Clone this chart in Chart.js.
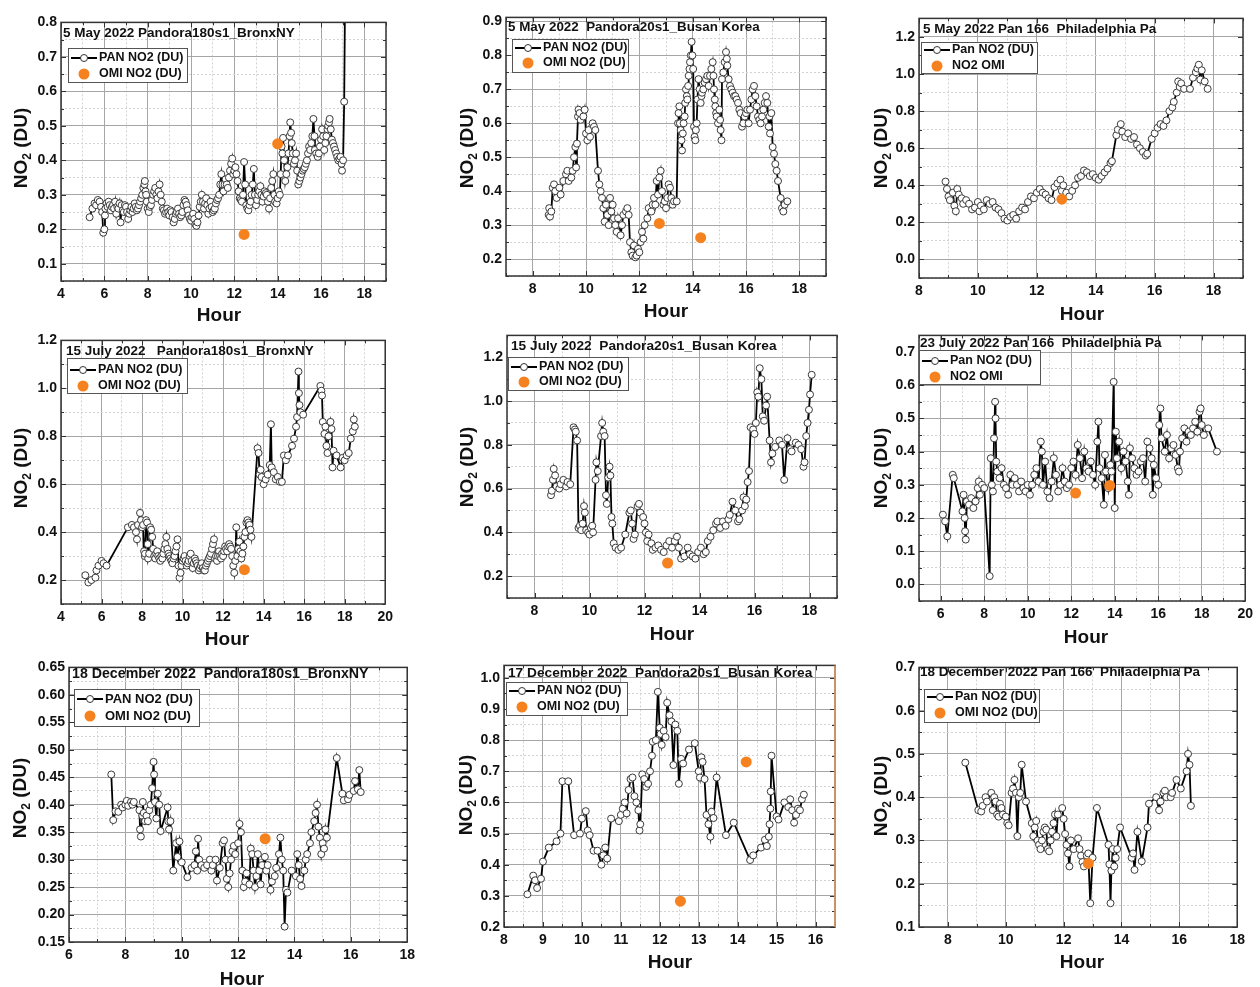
<!DOCTYPE html>
<html>
<head>
<meta charset="utf-8">
<script src="https://cdn.jsdelivr.net/npm/chart.js@4.4.1/dist/chart.umd.min.js"></script>
<style>
  html, body { margin: 0; padding: 0; background: #fff; width: 1260px; height: 987px; overflow: hidden; position: relative; }
  canvas { position: absolute; }
</style>
</head>
<body>
<script>
// ---- Pandora (PAN) and OMI total NO2 columns, DU, vs. hour of day ----

// 5 May 2022, Pandora180s1 Bronx NY
const bronxMayHour = [
  5.32,5.45,5.55,5.62,5.7,5.78,5.85,5.9,5.95,6.0,
  6.03,6.05,6.1,6.15,6.2,6.25,6.3,6.35,6.4,6.45,
  6.5,6.55,6.6,6.65,6.7,6.75,6.8,6.85,6.9,6.95,
  7.0,7.05,7.1,7.15,7.2,7.25,7.3,7.35,7.4,7.45,
  7.5,7.55,7.6,7.65,7.7,7.75,7.8,7.85,7.87,7.9,
  7.93,7.96,8.0,8.05,8.1,8.15,8.2,8.25,8.3,8.35,
  8.4,8.45,8.5,8.55,8.6,8.65,8.7,8.75,8.8,8.85,
  8.9,8.95,9.0,9.05,9.1,9.15,9.2,9.25,9.3,9.35,
  9.4,9.45,9.5,9.55,9.6,9.65,9.7,9.75,9.8,9.85,
  9.9,9.95,10.0,10.05,10.1,10.15,10.2,10.25,10.3,10.35,
  10.4,10.45,10.5,10.55,10.6,10.65,10.7,10.75,10.8,10.85,
  10.9,10.95,11.0,11.05,11.1,11.15,11.2,11.25,11.3,11.35,
  11.4,11.45,11.5,11.55,11.6,11.65,11.7,11.75,11.8,11.85,
  11.9,11.95,12.0,12.05,12.1,12.15,12.2,12.25,12.3,12.35,
  12.4,12.45,12.5,12.55,12.6,12.65,12.7,12.75,12.8,12.85,
  12.9,12.95,13.0,13.05,13.1,13.15,13.2,13.25,13.3,13.35,
  13.4,13.45,13.5,13.55,13.6,13.65,13.7,13.75,13.8,13.85,
  13.88,13.95,14.0,14.05,14.1,14.14,14.18,14.22,14.25,14.3,
  14.35,14.4,14.45,14.5,14.55,14.58,14.62,14.65,14.7,14.75,
  14.8,14.85,14.9,14.95,15.0,15.05,15.1,15.15,15.2,15.25,
  15.3,15.35,15.4,15.45,15.5,15.55,15.6,15.65,15.7,15.72,
  15.78,15.85,15.9,15.95,16.0,16.05,16.1,16.15,16.2,16.25,
  16.3,16.33,16.37,16.4,16.45,16.5,16.55,16.6,16.65,16.7,
  16.75,16.8,16.85,16.9,16.95,16.97,17.02,17.07,17.12
];
const bronxMayPan = [
  .235,.26,.275,.27,.285,.28,.265,.25,.19,.2,
  .24,.26,.275,.265,.28,.27,.255,.265,.27,.26,
  .28,.245,.265,.26,.275,.22,.27,.255,.25,.27,
  .265,.25,.23,.245,.255,.265,.25,.26,.275,.265,
  .255,.26,.27,.28,.29,.3,.32,.33,.34,.31,
  .3,.28,.26,.25,.265,.27,.285,.3,.31,.32,
  .3,.29,.31,.33,.3,.28,.26,.255,.245,.25,
  .26,.25,.24,.255,.25,.235,.22,.23,.245,.25,
  .26,.245,.235,.24,.25,.27,.285,.28,.27,.255,
  .24,.23,.225,.235,.245,.23,.215,.21,.22,.24,
  .265,.28,.3,.28,.26,.275,.29,.27,.245,.26,
  .28,.265,.25,.255,.26,.275,.285,.29,.3,.33,
  .36,.33,.31,.33,.345,.33,.32,.35,.37,.39,
  .405,.36,.37,.38,.36,.34,.31,.29,.285,.28,
  .3,.395,.33,.27,.26,.255,.27,.28,.3,.33,
  .375,.3,.27,.285,.3,.31,.325,.3,.28,.295,
  .31,.305,.3,.28,.26,.29,.32,.34,.36,.3,
  .28,.275,.29,.31,.3,.36,.44,.42,.465,.4,
  .34,.36,.38,.42,.47,.51,.48,.45,.42,.39,
  .4,.42,.37,.33,.34,.35,.36,.37,.375,.38,
  .39,.4,.42,.44,.43,.45,.47,.52,.47,.43,
  .42,.41,.42,.44,.46,.49,.47,.43,.45,.47,
  .49,.5,.51,.52,.49,.46,.45,.44,.43,.42,
  .41,.4,.405,.41,.39,.37,.4,.57,.95
];
const bronxMayOmiHour = [12.45, 14.0];
const bronxMayOmi = [0.185, 0.448];

// 5 May 2022, Pandora20s1 Busan Korea
const busanMayHour = [
  8.6,8.62,8.65,8.7,8.75,8.8,8.85,8.9,9.0,9.05,
  9.15,9.25,9.3,9.35,9.45,9.5,9.55,9.6,9.63,9.66,
  9.7,9.72,9.76,9.8,9.9,9.95,10.0,10.05,10.1,10.15,
  10.25,10.3,10.35,10.45,10.5,10.55,10.6,10.65,10.7,10.75,
  10.8,10.85,10.9,10.95,11.0,11.05,11.1,11.15,11.2,11.3,
  11.35,11.4,11.5,11.55,11.6,11.65,11.7,11.75,11.8,11.85,
  11.9,11.95,12.0,12.05,12.1,12.15,12.2,12.3,12.35,12.45,
  12.5,12.55,12.6,12.65,12.7,12.75,12.8,12.85,12.9,12.95,
  13.0,13.05,13.1,13.15,13.2,13.25,13.3,
  13.4,13.45,13.47,13.5,13.52,13.55,13.58,13.6,13.63,13.66,
  13.7,13.72,13.75,13.78,13.8,13.83,13.85,13.88,13.9,13.93,
  13.96,13.99,14.02,14.05,14.07,14.1,14.12,14.15,14.18,14.22,
  14.26,14.3,14.33,14.35,14.4,14.45,14.5,14.55,14.6,14.65,
  14.7,14.75,14.78,14.8,14.83,14.85,14.88,14.9,14.95,15.0,
  15.03,15.05,15.08,15.1,15.15,15.2,15.25,15.28,15.3,15.35,
  15.4,15.45,15.5,15.55,15.6,15.65,15.7,15.75,15.8,15.85,
  15.9,15.95,16.0,16.05,16.1,16.15,16.2,16.25,16.3,16.35,
  16.4,16.45,16.5,16.55,16.6,16.65,16.7,16.75,16.8,16.85,
  16.88,16.9,16.95,17.0,17.05,17.1,17.15,17.2,17.3,17.35,
  17.4,17.45,17.55
];
const busanMayPan = [
  .33,.35,.325,.34,.41,.42,.4,.38,.41,.39,
  .43,.45,.46,.43,.44,.46,.5,.53,.47,.54,
  .62,.64,.63,.61,.62,.64,.57,.55,.58,.56,
  .6,.59,.58,.46,.42,.4,.38,.35,.31,.36,
  .33,.3,.38,.34,.36,.32,.3,.28,.32,.27,
  .3,.33,.34,.35,.33,.25,.22,.21,.24,.205,
  .21,.23,.22,.25,.28,.26,.3,.32,.35,.34,
  .36,.38,.36,.43,.39,.44,.46,.4,.36,.37,
  .35,.38,.42,.41,.38,.36,.37,
  .37,.6,.63,.65,.6,.58,.55,.52,.57,.6,
  .62,.66,.7,.68,.67,.71,.74,.76,.78,.8,
  .84,.8,.76,.59,.56,.55,.58,.6,.67,.73,
  .7,.66,.68,.69,.7,.72,.73,.74,.71,.74,
  .76,.78,.74,.7,.67,.65,.63,.62,.6,.64,
  .61,.58,.55,.73,.75,.78,.81,.79,.77,.73,
  .71,.7,.69,.68,.68,.67,.66,.64,.63,.59,
  .6,.62,.63,.64,.6,.64,.67,.7,.71,.68,
  .65,.62,.61,.6,.62,.64,.66,.68,.66,.59,
  .62,.57,.63,.53,.51,.48,.46,.43,.38,.35,
  .34,.36,.37
];
const busanMayOmiHour = [12.75, 14.3];
const busanMayOmi = [0.305, 0.263];

// 5 May 2022, Pan 166 Philadelphia PA
const phillyMayHour = [
  8.9,8.95,9.0,9.05,9.15,9.2,9.25,9.3,9.35,9.45,
  9.5,9.6,9.7,9.8,9.9,10.0,10.05,10.1,10.2,10.3,
  10.4,10.5,10.6,10.7,10.8,10.9,11.0,11.1,11.2,11.3,
  11.4,11.5,11.6,11.7,11.8,11.9,12.0,12.1,12.2,12.3,
  12.4,12.5,12.6,12.7,12.8,12.85,12.9,13.0,13.1,13.2,
  13.3,13.4,13.5,13.6,13.7,13.8,13.9,14.0,14.1,14.2,
  14.3,14.4,14.5,14.55,14.7,14.75,14.85,14.9,15.0,15.1,
  15.2,15.3,15.4,15.5,15.6,15.7,15.75,15.9,16.0,16.1,
  16.2,16.3,16.4,16.5,16.6,16.65,16.75,16.8,16.85,16.9,
  17.0,17.2,17.3,17.4,17.45,17.5,17.55,17.6,17.7,17.8
];
const phillyMayPan = [
  .42,.38,.34,.32,.36,.29,.26,.38,.35,.33,
  .3,.32,.3,.27,.28,.31,.26,.29,.27,.32,
  .3,.31,.28,.27,.25,.22,.21,.23,.24,.22,
  .26,.28,.27,.31,.34,.33,.36,.38,.36,.35,
  .33,.32,.39,.41,.43,.37,.4,.36,.34,.37,
  .4,.44,.45,.48,.47,.45,.46,.44,.43,.45,
  .47,.49,.52,.53,.67,.7,.73,.69,.66,.68,
  .65,.66,.62,.6,.58,.56,.57,.65,.68,.71,
  .73,.72,.75,.8,.82,.85,.9,.96,.93,.95,
  .92,.92,.98,1.01,1.03,1.05,.97,1.02,.96,.92
];
const phillyMayOmiHour = [12.85];
const phillyMayOmi = [0.325];

// 15 July 2022, Pandora180s1 Bronx NY
const bronxJulHour = [
  5.2,5.35,5.5,5.7,5.75,5.85,6.0,6.1,6.25,7.3,
  7.5,7.6,7.7,7.75,7.8,7.9,7.95,8.0,8.05,
  8.1,8.13,8.15,8.2,8.25,8.28,8.3,8.35,8.4,8.45,
  8.5,8.55,8.6,8.65,8.7,8.75,8.8,8.85,8.9,8.95,
  9.0,9.05,9.1,9.15,9.2,9.25,9.3,9.35,9.4,9.45,
  9.5,9.55,9.6,9.65,9.7,9.75,9.8,9.85,9.9,9.95,
  10.0,10.05,10.1,10.15,10.2,10.25,10.3,10.35,10.4,10.45,
  10.5,10.55,10.6,10.65,10.7,10.75,10.8,10.85,10.9,10.95,
  11.0,11.05,11.1,11.15,11.2,11.25,11.3,11.35,11.4,11.45,
  11.5,11.55,11.6,11.65,11.7,11.75,11.8,11.85,11.9,11.95,
  12.0,12.05,12.1,12.15,12.2,12.25,12.3,12.35,12.4,12.45,
  12.5,12.55,12.6,12.65,12.7,12.75,12.8,12.85,12.9,12.95,
  13.0,13.05,13.1,13.15,13.2,13.25,13.3,13.35,13.4,
  13.7,13.75,13.8,13.85,13.9,14.0,14.1,14.2,14.3,14.36,
  14.4,14.5,14.6,14.7,14.8,14.9,15.0,15.1,15.2,15.4,
  15.5,15.6,15.65,15.72,15.74,15.77,15.82,15.95,16.8,16.85,
  16.88,16.92,17.0,17.05,17.1,17.15,17.2,17.3,17.35,17.4,
  17.45,17.6,17.8,17.9,18.0,18.1,18.2,18.3,18.4,18.45,
  18.5
];
const bronxJulPan = [
  .22,.19,.2,.21,.24,.26,.28,.27,.26,.42,
  .43,.42,.4,.37,.43,.48,.45,.42,.43,
  .32,.3,.31,.45,.44,.35,.29,.31,.42,.41,
  .38,.33,.3,.29,.31,.32,.3,.29,.28,.3,
  .29,.31,.33,.35,.38,.33,.31,.3,.29,.28,
  .27,.29,.3,.32,.34,.37,.26,.21,.23,.26,
  .28,.29,.3,.28,.26,.27,.28,.3,.31,.28,
  .25,.27,.29,.28,.27,.26,.24,.25,.26,.27,
  .25,.24,.24,.26,.27,.28,.29,.3,.31,.33,
  .35,.37,.29,.3,.28,.3,.32,.3,.29,.31,
  .3,.32,.34,.33,.32,.34,.35,.34,.33,.3,
  .26,.23,.28,.42,.3,.33,.36,.32,.29,.31,
  .34,.38,.4,.44,.45,.44,.43,.41,.38,
  .75,.73,.64,.66,.63,.6,.62,.64,.68,.85,
  .67,.65,.62,.63,.61,.61,.72,.7,.72,.76,
  .79,.84,.88,1.07,.98,.93,.9,.89,1.01,.99,
  .97,.86,.81,.84,.76,.73,.8,.86,.83,.67,
  .74,.72,.67,.71,.7,.72,.73,.79,.82,.87,
  .84
];
const bronxJulOmiHour = [13.05];
const bronxJulOmi = [0.243];

// 15 July 2022, Pandora20s1 Busan Korea
const busanJulHour = [
  8.6,8.63,8.67,8.7,8.75,8.8,8.9,8.95,9.05,9.15,
  9.2,9.3,9.42,9.47,9.5,9.55,9.6,9.65,9.7,9.75,
  9.8,9.83,9.88,9.95,10.0,10.05,10.1,10.13,10.22,10.25,
  10.3,10.42,10.46,10.5,10.55,10.6,10.63,10.68,10.73,10.76,
  10.8,10.83,10.88,10.95,11.05,11.15,11.3,11.45,11.5,11.55,
  11.6,11.65,11.75,11.8,11.85,11.95,12.0,12.05,12.1,12.15,
  12.25,12.3,12.4,12.5,12.6,12.7,12.8,12.9,13.0,13.1,
  13.18,13.25,13.33,13.45,13.57,13.65,13.75,13.85,13.95,14.05,
  14.15,14.23,14.3,14.4,14.5,14.6,14.65,14.75,14.85,14.95,
  15.05,15.1,15.2,15.3,15.4,15.45,15.55,15.6,15.65,15.7,
  15.75,15.8,15.86,15.95,16.0,16.05,16.1,16.14,16.19,16.25,
  16.3,16.35,16.42,16.46,16.55,16.6,16.65,16.75,16.9,17.0,
  17.08,17.2,17.3,17.35,17.5,17.6,17.7,17.78,17.82,17.88,
  17.93,17.98,18.02,18.08
];
const busanJulPan = [
  .57,.59,.64,.69,.66,.61,.6,.62,.64,.61,
  .63,.62,.88,.87,.86,.82,.42,.43,.41,.44,
  .52,.49,.41,.4,.39,.42,.43,.4,.64,.72,
  .68,.84,.9,.86,.84,.57,.53,.65,.7,.66,
  .47,.44,.35,.33,.32,.33,.39,.49,.5,.44,
  .37,.39,.52,.53,.49,.47,.44,.4,.36,.39,
  .35,.32,.33,.34,.32,.31,.34,.36,.33,.36,
  .38,.33,.28,.29,.33,.3,.29,.28,.31,.33,
  .3,.31,.36,.38,.41,.44,.45,.42,.45,.43,
  .46,.48,.54,.5,.45,.46,.5,.56,.52,.55,
  .63,.68,.88,.87,.85,.9,1.04,1.02,1.15,1.1,
  .93,.91,.98,1.02,.82,.72,.76,.79,.82,.8,
  .64,.83,.78,.77,.81,.8,.78,.7,.72,.84,
  .9,.96,1.03,1.12
];
const busanJulOmiHour = [12.84];
const busanJulOmi = [0.26];

// 23 July 2022, Pan 166 Philadelphia PA
const phillyJulHour = [
  6.1,6.2,6.3,6.55,6.6,7.0,7.05,7.1,7.12,7.15,
  7.2,7.3,7.4,7.5,7.6,7.7,7.75,7.8,7.9,8.0,
  8.25,8.3,8.35,8.4,8.45,8.5,8.52,8.55,8.6,8.7,
  8.8,8.9,9.0,9.1,9.2,9.3,9.4,9.5,9.6,9.7,
  9.8,9.9,10.0,10.1,10.2,10.3,10.4,10.5,10.6,10.65,
  10.7,10.8,10.9,11.0,11.1,11.2,11.3,11.4,11.5,11.6,
  11.7,11.8,11.9,12.0,12.1,12.2,12.3,12.4,12.5,12.6,
  12.7,12.8,12.9,13.0,13.1,13.2,13.25,13.3,13.4,13.5,
  13.55,13.6,13.7,13.8,13.85,13.95,14.0,14.05,14.1,14.2,
  14.3,14.4,14.5,14.6,14.65,14.7,14.8,14.9,15.0,15.1,
  15.2,15.3,15.4,15.5,15.6,15.7,15.75,15.8,15.9,16.0,
  16.05,16.1,16.15,16.3,16.4,16.5,16.6,16.7,16.8,16.9,
  16.95,17.0,17.1,17.2,17.3,17.4,17.5,17.6,17.7,17.8,
  17.9,17.95,18.0,18.1,18.3,18.7
];
const phillyJulPan = [
  .21,.19,.145,.33,.32,.22,.27,.2,.16,.135,
  .25,.24,.26,.23,.25,.29,.31,.27,.3,.29,
  .025,.38,.3,.28,.44,.55,.5,.37,.34,.32,
  .35,.3,.29,.27,.33,.3,.32,.3,.28,.31,
  .29,.28,.3,.27,.3,.33,.35,.31,.43,.4,
  .3,.37,.28,.26,.31,.38,.33,.28,.3,.35,
  .31,.29,.3,.35,.37,.33,.42,.38,.32,.4,
  .35,.34,.37,.33,.3,.43,.49,.35,.32,.24,
  .39,.34,.29,.36,.34,.61,.23,.46,.38,.43,
  .35,.4,.37,.31,.27,.41,.38,.35,.33,.34,
  .37,.38,.31,.43,.41,.38,.27,.36,.32,.3,
  .48,.53,.44,.4,.45,.38,.41,.42,.39,.35,
  .34,.4,.44,.47,.43,.46,.45,.47,.49,.46,
  .52,.53,.48,.45,.47,.4
];
const phillyJulOmiHour = [12.2, 13.77];
const phillyJulOmi = [0.275, 0.298];

// 18 December 2022, Pandora180s1 Bronx NY
const bronxDecHour = [
  7.5,7.57,7.65,7.75,7.85,7.9,8.0,8.05,8.1,8.2,
  8.25,8.3,8.5,8.52,8.55,8.6,8.62,8.65,8.7,8.75,
  8.8,8.85,8.9,8.95,9.0,9.02,9.05,9.1,9.15,9.2,
  9.25,9.5,9.52,9.55,9.6,9.7,9.8,9.85,9.92,10.0,
  10.2,10.35,10.45,10.5,10.55,10.58,10.62,10.7,10.8,10.9,
  11.0,11.05,11.1,11.2,11.25,11.35,11.45,11.5,11.55,11.6,
  11.65,11.7,11.75,11.8,11.85,11.9,12.0,12.05,12.1,12.15,
  12.2,12.25,12.3,12.4,12.45,12.5,12.55,12.6,12.65,12.7,
  12.75,12.8,12.85,12.95,13.0,13.05,13.15,13.2,13.3,13.35,
  13.45,13.5,13.55,13.6,13.65,13.7,13.75,13.9,14.05,14.1,
  14.15,14.2,14.25,14.35,14.4,14.45,14.55,14.6,14.7,14.75,
  14.8,14.85,14.9,14.95,15.0,15.05,15.1,15.15,15.5,15.7,
  15.75,15.9,15.95,16.1,16.15,16.25,16.3,16.35
];
const bronxDecPan = [
  .455,.372,.388,.387,.4,.395,.4,.407,.398,.405,
  .4,.405,.39,.355,.342,.38,.405,.385,.37,.38,
  .37,.39,.4,.43,.478,.455,.405,.375,.42,.4,
  .352,.395,.37,.355,.37,.28,.33,.305,.333,.295,
  .268,.285,.29,.315,.28,.338,.3,.29,.285,.29,
  .3,.28,.29,.3,.262,.285,.33,.335,.3,.265,
  .25,.275,.3,.315,.325,.31,.33,.365,.35,.28,
  .25,.26,.275,.255,.32,.31,.28,.25,.27,.31,
  .28,.255,.29,.305,.28,.29,.245,.26,.27,.285,
  .31,.34,.3,.28,.178,.245,.24,.28,.27,.31,
  .29,.265,.252,.28,.3,.31,.33,.35,.37,.385,
  .4,.36,.34,.31,.33,.32,.355,.34,.485,.42,
  .408,.41,.418,.425,.443,.428,.463,.423
];
const bronxDecOmiHour = [12.96];
const bronxDecOmi = [0.338];

// 17 December 2022, Pandora20s1 Busan Korea
const busanDecHour = [
  8.6,8.75,8.8,8.85,8.95,9.0,9.15,9.35,9.45,9.5,
  9.65,9.8,9.95,10.0,10.1,10.15,10.2,10.3,10.4,10.5,
  10.55,10.6,10.65,10.75,10.95,11.0,11.05,11.1,11.15,11.2,
  11.25,11.3,11.35,11.4,11.45,11.48,11.5,11.55,11.6,11.65,
  11.7,11.75,11.8,11.82,11.9,11.95,12.0,12.02,12.05,12.1,
  12.15,12.19,12.25,12.3,12.35,12.4,12.45,12.49,12.55,12.6,
  12.75,12.9,13.0,13.03,13.07,13.1,13.15,13.2,13.25,13.3,
  13.33,13.38,13.46,13.7,13.9,14.32,14.4,14.6,14.7,14.75,
  14.8,14.82,14.84,14.85,14.87,15.0,15.05,15.2,15.3,15.35,
  15.4,15.45,15.5,15.55,15.6,15.65,15.7
];
const busanDecPan = [
  .305,.365,.35,.325,.355,.41,.455,.475,.5,.668,
  .668,.495,.5,.548,.572,.51,.495,.445,.445,.4,
  .43,.455,.42,.548,.54,.56,.58,.6,.565,.64,
  .675,.68,.62,.6,.575,.51,.53,.69,.675,.65,
  .66,.7,.75,.795,.8,.955,.84,.82,.785,.83,
  .81,.92,.88,.86,.72,.85,.83,.66,.74,.725,
  .77,.79,.7,.68,.745,.73,.675,.56,.53,.49,
  .57,.55,.68,.495,.535,.415,.43,.455,.48,.46,
  .49,.53,.58,.635,.75,.555,.545,.6,.585,.61,
  .575,.535,.56,.58,.575,.61,.625
];
const busanDecOmiHour = [12.53, 14.22];
const busanDecOmi = [0.283, 0.73];

// 18 December 2022, Pan 166 Philadelphia PA
const phillyDecHour = [
  8.6,9.05,9.15,9.2,9.3,9.35,9.5,9.55,9.6,9.65,
  9.7,9.75,9.8,9.85,9.9,10.0,10.05,10.1,10.2,10.25,
  10.3,10.35,10.4,10.45,10.5,10.55,10.7,10.9,10.95,11.0,
  11.05,11.1,11.15,11.2,11.25,11.3,11.35,11.4,11.45,11.5,
  11.55,11.6,11.65,11.7,11.75,11.8,11.95,12.0,12.05,12.1,
  12.15,12.2,12.25,12.35,12.5,12.55,12.6,12.65,12.7,12.8,
  12.85,12.92,13.0,13.15,13.55,13.58,13.62,13.65,13.7,13.75,
  13.8,13.85,13.95,14.35,14.4,14.45,14.55,14.7,14.9,14.95,
  15.2,15.3,15.35,15.45,15.5,15.55,15.7,15.75,15.9,16.05,
  16.25,16.3,16.35,16.4
];
const phillyDecPan = [
  .48,.37,.367,.38,.4,.39,.41,.37,.4,.39,
  .36,.355,.385,.375,.36,.355,.34,.335,.41,.42,
  .44,.41,.31,.4,.41,.475,.39,.34,.31,.33,
  .345,.3,.29,.28,.3,.32,.33,.325,.28,.275,
  .3,.32,.34,.36,.31,.36,.375,.35,.315,.29,
  .27,.24,.3,.28,.305,.28,.265,.25,.24,.265,
  .27,.155,.26,.375,.29,.245,.155,.23,.28,.24,
  .26,.28,.33,.26,.27,.232,.32,.252,.33,.385,
  .4,.37,.39,.41,.415,.4,.4,.41,.44,.42,
  .46,.5,.475,.38
];
const phillyDecOmiHour = [12.85];
const phillyDecOmi = [0.247];

// ---- page layout for the 3x3 grid (plot boxes in page pixels) ----
const FONT = '"Liberation Sans", Arial, Helvetica, sans-serif';
const ORANGE = '#f5821f';
const PAN_LABEL = 'PAN NO2 (DU)', OMI_LABEL = 'OMI NO2 (DU)';
const PAN_LABEL_PA = 'Pan NO2 (DU)', OMI_LABEL_PA = 'NO2 OMI';

const panels = [
  { hour: bronxMayHour, pan: bronxMayPan, omiHour: bronxMayOmiHour, omi: bronxMayOmi,
    box: [61, 20, 386, 281], x: [4, 19, 1, 2], y: [0.05, 0.8, 0.05, 0.1], dec: 1,
    title: '5 May 2022 Pandora180s1_BronxNY', titleAt: [63, 33], titleSize: 13.5, legendSize: 12.5,
    legend: [68, 48, 119, 34], rows: [58, 74], labels: [PAN_LABEL, OMI_LABEL],
    hourAt: [219, 316], no2At: [22, 148] },
  { hour: busanMayHour, pan: busanMayPan, omiHour: busanMayOmiHour, omi: busanMayOmi,
    box: [506, 15, 826, 276], x: [7, 19, 1, 2], y: [0.15, 0.912, 0.05, 0.1], dec: 1,
    title: '5 May 2022  Pandora20s1_Busan Korea', titleAt: [508, 27.5], titleSize: 13.4, legendSize: 12.5,
    legend: [512, 39, 116, 33], rows: [48, 63], labels: [PAN_LABEL, OMI_LABEL],
    hourAt: [666, 312], no2At: [468, 148] },
  { hour: phillyMayHour, pan: phillyMayPan, omiHour: phillyMayOmiHour, omi: phillyMayOmi,
    box: [919, 16, 1243, 278], x: [8, 19, 1, 2], y: [-0.1, 1.3, 0.1, 0.2], dec: 1,
    title: '5 May 2022 Pan 166  Philadelphia Pa', titleAt: [923, 29], titleSize: 13.5, legendSize: 12.5,
    legend: [921, 42, 116, 31], rows: [50, 66], labels: [PAN_LABEL_PA, OMI_LABEL_PA],
    hourAt: [1082, 315], no2At: [882, 148] },
  { hour: bronxJulHour, pan: bronxJulPan, omiHour: bronxJulOmiHour, omi: bronxJulOmi,
    box: [61, 338, 392, 604], x: [4, 20, 1, 2], y: [0.1, 1.2, 0.1, 0.2], dec: 1,
    title: '15 July 2022   Pandora180s1_BronxNY', titleAt: [66, 351], titleSize: 13.5, legendSize: 12.5,
    legend: [67, 358, 120, 35], rows: [370, 386], labels: [PAN_LABEL, OMI_LABEL],
    hourAt: [227, 640], no2At: [22, 468] },
  { hour: busanJulHour, pan: busanJulPan, omiHour: busanJulOmiHour, omi: busanJulOmi,
    box: [507, 333, 837, 598], x: [7, 19, 1, 2], y: [0.1, 1.3, 0.1, 0.2], dec: 1,
    title: '15 July 2022  Pandora20s1_Busan Korea', titleAt: [511, 346], titleSize: 13.7, legendSize: 12.5,
    legend: [508, 357, 120, 33], rows: [367, 382], labels: [PAN_LABEL, OMI_LABEL],
    hourAt: [672, 635], no2At: [468, 467] },
  { hour: phillyJulHour, pan: phillyJulPan, omiHour: phillyJulOmiHour, omi: phillyJulOmi,
    box: [919, 333, 1252, 601], x: [5, 20, 1, 2], y: [-0.05, 0.75, 0.05, 0.1], dec: 1,
    title: '23 July 2022 Pan 166  Philadelphia Pa', titleAt: [920, 343], titleSize: 13.5, legendSize: 12.5,
    legend: [919, 350, 121, 34], rows: [361, 377], labels: [PAN_LABEL_PA, OMI_LABEL_PA],
    hourAt: [1086, 638], no2At: [882, 468] },
  { hour: bronxDecHour, pan: bronxDecPan, omiHour: bronxDecOmiHour, omi: bronxDecOmi,
    box: [69, 665, 414, 942], x: [6, 18, 1, 2], y: [0.15, 0.65, 0.025, 0.05], dec: 2,
    title: '18 December 2022  Pandora180s1_BronxNY', titleAt: [72, 674.5], titleSize: 14.2, legendSize: 13,
    legend: [74, 689, 125, 37], rows: [699, 716], labels: [PAN_LABEL, OMI_LABEL],
    hourAt: [242, 980], no2At: [21, 798] },
  { hour: busanDecHour, pan: busanDecPan, omiHour: busanDecOmiHour, omi: busanDecOmi,
    box: [504, 663, 835, 927], x: [8, 16.5, 0.5, 1], y: [0.2, 1.04, 0.05, 0.1], dec: 1,
    title: '17 December 2022  Pandora20s1_Busan Korea', titleAt: [508, 673], titleSize: 13.7, legendSize: 12.5,
    legend: [506, 682, 121, 33], rows: [691, 707], labels: [PAN_LABEL, OMI_LABEL],
    hourAt: [670, 963], no2At: [467, 795], rightEdge: '#e9a66a' },
  { hour: phillyDecHour, pan: phillyDecPan, omiHour: phillyDecOmiHour, omi: phillyDecOmi,
    box: [919, 665, 1244, 927], x: [7, 18, 1, 2], y: [0.1, 0.7, 0.05, 0.1], dec: 1,
    title: '18 December 2022 Pan 166  Philadelphia Pa', titleAt: [920, 672], titleSize: 13.5, legendSize: 12.5,
    legend: [924, 689, 115, 33], rows: [697, 713], labels: [PAN_LABEL_PA, OMI_LABEL],
    hourAt: [1082, 963], no2At: [882, 796] }
];

Chart.defaults.font.family = FONT;
Chart.defaults.font.weight = 'bold';
Chart.defaults.font.size = 14;
Chart.defaults.color = '#111';

function isMajor(v, step) {
  const q = v / step;
  return Math.abs(q - Math.round(q)) < 1e-6;
}
// evenly spaced ticks (major + minor) inside [min, max]
function stepTicks(min, max, step) {
  const out = [];
  const first = Math.ceil(min / step - 1e-6);
  const last = Math.floor(max / step + 1e-6);
  for (let k = first; k <= last; k++) out.push({ value: Math.round(k * step * 1e6) / 1e6 });
  return out;
}
function gridColor(ctx, step) {
  if (!ctx.tick) return '#a6a6a6';
  return isMajor(ctx.tick.value, step) ? '#a6a6a6' : '#d2d2d2';
}
function gridDash(ctx, step) {
  if (!ctx.tick) return [];
  return isMajor(ctx.tick.value, step) ? [] : [2, 2];
}

// frame with inward ticks, in-plot title, legend box and axis titles
function decor(p, ox, oy) {
  return {
    id: 'decor',
    afterDraw(chart) {
      const c = chart.ctx, a = chart.chartArea;
      const xs = chart.scales.x, ys = chart.scales.y;
      c.save();

      c.strokeStyle = '#333';
      c.lineWidth = 1;
      c.beginPath();
      xs.ticks.forEach(tk => {
        const px = Math.round(xs.getPixelForValue(tk.value)) + 0.5;
        const len = isMajor(tk.value, p.x[3]) ? 5 : 3;
        c.moveTo(px, a.bottom); c.lineTo(px, a.bottom - len);
        c.moveTo(px, a.top); c.lineTo(px, a.top + len);
      });
      ys.ticks.forEach(tk => {
        const py = Math.round(ys.getPixelForValue(tk.value)) + 0.5;
        const len = isMajor(tk.value, p.y[3]) ? 5 : 3;
        c.moveTo(a.left, py); c.lineTo(a.left + len, py);
        c.moveTo(a.right, py); c.lineTo(a.right - len, py);
      });
      c.stroke();

      c.strokeStyle = '#333';
      c.lineWidth = 1.5;
      c.strokeRect(a.left, a.top, a.right - a.left, a.bottom - a.top);
      if (p.rightEdge) {
        c.strokeStyle = p.rightEdge;
        c.beginPath(); c.moveTo(a.right, a.top); c.lineTo(a.right, a.bottom); c.stroke();
      }

      c.fillStyle = '#111';
      c.textAlign = 'left';
      c.textBaseline = 'middle';
      c.font = 'bold ' + p.titleSize + 'px ' + FONT;
      c.fillText(p.title, p.titleAt[0] - ox, p.titleAt[1] - oy);

      const [lx, ly, lw, lh] = p.legend;
      const bx = lx - ox, by = ly - oy;
      c.fillStyle = '#fff';
      c.fillRect(bx, by, lw, lh);
      c.strokeStyle = '#555';
      c.lineWidth = 1;
      c.strokeRect(bx + 0.5, by + 0.5, lw, lh);
      const r1 = p.rows[0] - oy, r2 = p.rows[1] - oy;
      c.strokeStyle = '#000';
      c.lineWidth = 2;
      c.beginPath(); c.moveTo(bx + 3, r1); c.lineTo(bx + 29, r1); c.stroke();
      c.beginPath(); c.arc(bx + 16, r1, 3.5, 0, Math.PI * 2);
      c.fillStyle = '#fff'; c.fill();
      c.lineWidth = 1; c.strokeStyle = '#333'; c.stroke();
      c.beginPath(); c.arc(bx + 16, r2, 5.5, 0, Math.PI * 2);
      c.fillStyle = ORANGE; c.fill();
      c.fillStyle = '#111';
      c.font = 'bold ' + p.legendSize + 'px ' + FONT;
      c.fillText(p.labels[0], bx + 31, r1);
      c.fillText(p.labels[1], bx + 31, r2);

      c.font = 'bold 19px ' + FONT;
      c.textAlign = 'center';
      c.fillText('Hour', p.hourAt[0] - ox, p.hourAt[1] - oy);

      c.translate(p.no2At[0] - ox, p.no2At[1] - oy);
      c.rotate(-Math.PI / 2);
      const big = 'bold 19px ' + FONT, small = 'bold 12px ' + FONT;
      c.font = big;
      const w1 = c.measureText('NO').width, w3 = c.measureText(' (DU)').width;
      c.font = small;
      const w2 = c.measureText('2').width;
      const x0 = -(w1 + w2 + w3) / 2;
      c.textAlign = 'left';
      c.font = big; c.fillText('NO', x0, 0);
      c.font = small; c.fillText('2', x0 + w1, 6);
      c.font = big; c.fillText(' (DU)', x0 + w1 + w2, 0);
      c.restore();
    }
  };
}

const PAD_L = 62, PAD_T = 10, PAD_R = 6, PAD_B = 64;

panels.forEach(p => {
  const [l, t, r, b] = p.box;
  const W = r - l + PAD_L + PAD_R, H = b - t + PAD_T + PAD_B;
  const ox = l - PAD_L, oy = t - PAD_T;
  const cv = document.createElement('canvas');
  cv.width = W; cv.height = H;
  cv.style.left = ox + 'px'; cv.style.top = oy + 'px';
  cv.style.width = W + 'px'; cv.style.height = H + 'px';
  document.body.appendChild(cv);

  new Chart(cv, {
    type: 'line',
    data: {
      datasets: [
        {
          label: p.labels[1],
          data: p.omiHour.map((h, i) => ({ x: h, y: p.omi[i] })),
          showLine: false,
          pointRadius: 5.5,
          pointBackgroundColor: ORANGE,
          pointBorderColor: ORANGE,
          pointBorderWidth: 0,
          order: 0
        },
        {
          label: p.labels[0],
          data: p.hour.map((h, i) => ({ x: h, y: p.pan[i] })),
          borderColor: '#000',
          borderWidth: 1.8,
          tension: 0,
          pointRadius: 3.5,
          pointBackgroundColor: '#fff',
          pointBorderColor: '#3a3a3a',
          pointBorderWidth: 1,
          order: 1
        }
      ]
    },
    options: {
      responsive: false,
      animation: false,
      devicePixelRatio: 1,
      events: [],
      layout: { autoPadding: false, padding: { left: 0, top: PAD_T, right: PAD_R, bottom: 0 } },
      plugins: { legend: { display: false }, tooltip: { enabled: false } },
      scales: {
        x: {
          type: 'linear', min: p.x[0], max: p.x[1],
          afterFit(s) { s.height = PAD_B; },
          afterBuildTicks(s) { s.ticks = stepTicks(p.x[0], p.x[1], p.x[2]); },
          ticks: {
            autoSkip: false, maxRotation: 0, padding: 5,
            callback: v => isMajor(v, p.x[3]) ? String(Math.round(v)) : ''
          },
          grid: { drawTicks: false, lineWidth: 1, color: c => gridColor(c, p.x[3]) },
          border: { display: false, dash: c => gridDash(c, p.x[3]) }
        },
        y: {
          type: 'linear', min: p.y[0], max: p.y[1],
          afterFit(s) { s.width = PAD_L; },
          afterBuildTicks(s) { s.ticks = stepTicks(p.y[0], p.y[1], p.y[2]); },
          ticks: {
            autoSkip: false, padding: 4,
            callback: v => isMajor(v, p.y[3]) ? Number(v).toFixed(p.dec) : ''
          },
          grid: { drawTicks: false, lineWidth: 1, color: c => gridColor(c, p.y[3]) },
          border: { display: false, dash: c => gridDash(c, p.y[3]) }
        }
      }
    },
    plugins: [decor(p, ox, oy)]
  });
});
</script>
</body>
</html>
